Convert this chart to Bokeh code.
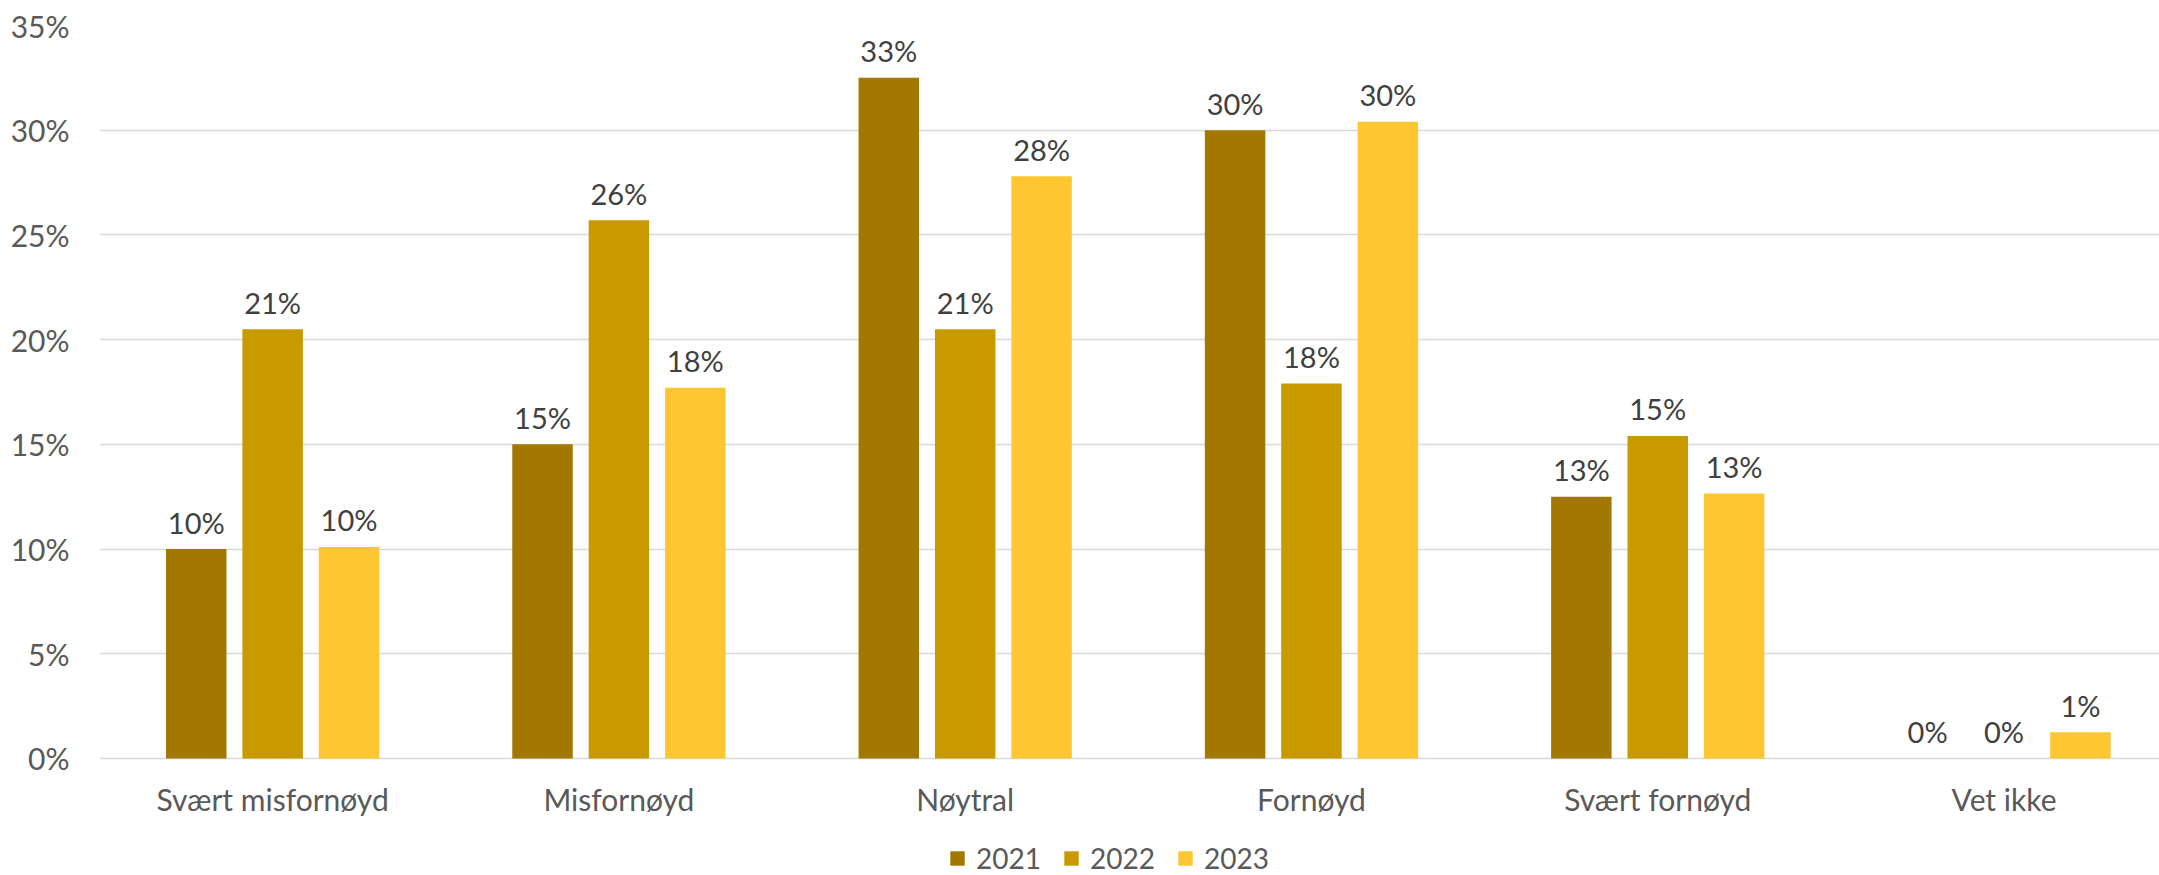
from bokeh.plotting import figure
from bokeh.models import ColumnDataSource, FixedTicker, Range1d, Legend, LegendItem
from bokeh.core.properties import value
from bokeh.embed import file_html
from bokeh.resources import INLINE

categories = ["Svært misfornøyd", "Misfornøyd", "Nøytral", "Fornøyd", "Svært fornøyd", "Vet ikke"]
years = ["2021", "2022", "2023"]
v2021 = [10.0, 15.0, 32.5, 30.0, 12.5, 0.0]
v2022 = [20.5, 25.7, 20.5, 17.9, 15.4, 0.0]
v2023 = [10.1, 17.7, 27.8, 30.4, 12.65, 1.25]
colors = ["#A37800", "#C89A00", "#FEC732"]
y_ticks = [0, 5, 10, 15, 20, 25, 30, 35]

FONT = "Lato"
series = [v2021, v2022, v2023]
offsets = [-0.2206, 0.0, 0.2206]
bar_w = 0.1747

# frame spans the full lower area so the category labels and legend sit inside it
p = figure(width=2159, height=875, output_backend="svg", toolbar_location=None,
           x_range=Range1d(0, 5.949), y_range=Range1d(-5.587, 35),
           x_axis_location=None,
           min_border_left=99, min_border_right=0, min_border_top=25, min_border_bottom=0)
p.outline_line_color = None
p.background_fill_color = "white"

items = []
for yr, vals, off, col in zip(years, series, offsets, colors):
    xs = [i + 0.5 + off for i in range(len(categories))]
    labels = [f"{int(v + 0.5)}%" for v in vals]
    src = ColumnDataSource(dict(x=xs, top=vals, lab=labels))
    r = p.vbar(x="x", top="top", width=bar_w, bottom=0, source=src, fill_color=col, line_color=None)
    p.text(x="x", y="top", text="lab", source=src, text_align="center", text_baseline="alphabetic",
           y_offset=-27, text_font=value(FONT), text_font_size="29px", text_color="#404040")
    items.append(LegendItem(label=yr, renderers=[r]))

# category labels under the baseline
xt = [i + 0.5 for i in range(len(categories))]
csrc = ColumnDataSource(dict(x=xt, y=[0] * len(categories), name=categories))
p.text(x="x", y="y", text="name", source=csrc, text_align="center", text_baseline="middle",
       y_offset=41, text_font=value(FONT), text_font_size="30px", text_color="#595959")

p.xgrid.grid_line_color = None
p.ygrid.grid_line_color = "#D9D9D9"
p.ygrid.grid_line_width = 1.5
p.ygrid.ticker = FixedTicker(ticks=y_ticks)

p.yaxis.ticker = FixedTicker(ticks=y_ticks)
p.yaxis.major_label_overrides = {t: f"{t}%" for t in y_ticks}
p.yaxis.axis_line_color = None
p.yaxis.major_tick_line_color = None
p.yaxis.minor_tick_line_color = None
p.yaxis.major_label_standoff = 24
p.yaxis.major_label_text_font = FONT
p.yaxis.major_label_text_font_size = "30px"
p.yaxis.major_label_text_color = "#595959"

legend = Legend(items=items, orientation="horizontal", location=(849, 0),
                glyph_width=18, glyph_height=18, label_standoff=10, spacing=21,
                padding=0, margin=0, border_line_color=None, background_fill_alpha=0,
                label_text_font=FONT, label_text_font_size="28px", label_text_color="#595959")
p.add_layout(legend, "center")

open("out.html", "w").write(file_html(p, INLINE))
